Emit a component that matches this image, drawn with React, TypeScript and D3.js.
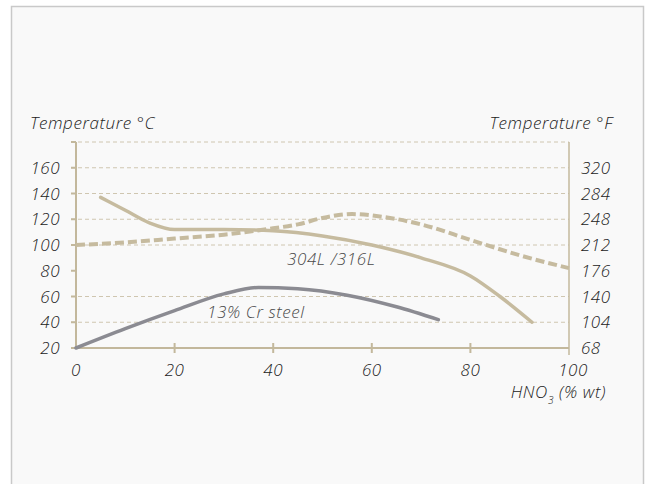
import React from "react";
import * as d3 from "d3";

// 304L / 316L, boiling-point curve (dashed) and 13% Cr steel
const steelX = [5, 10, 15, 20, 30, 40, 50, 60, 70, 80, 86, 92.5];
const steelY = [137, 127, 117, 112, 112, 111, 107, 100, 90, 76, 60, 40];

const boilX = [0, 10, 20, 30, 40, 45, 50, 56, 62, 70, 80, 90, 100];
const boilY = [100, 102, 105, 108, 113, 116, 121, 124, 122, 116, 104, 92, 82];

const crX = [0, 10, 20, 30, 37, 45, 55, 65, 73.5];
const crY = [20, 35, 49, 62, 67, 66, 61, 52, 42];

const xTicks = [0, 20, 40, 60, 80, 100];
const cTicks = [20, 40, 60, 80, 100, 120, 140, 160];
const fTicks = ["68", "104", "140", "176", "212", "248", "284", "320"];
const gridValues = [40, 60, 100, 120, 140, 160, 180];

const W = 646;
const H = 484;
const tan = "#c6bb9f";
const axisCol = "#c3b89c";
const gridCol = "#cfc6b0";
const gray = "#8b8b92";
const textCol = "#222222";
const font = "'Open Sans', 'Noto Sans', sans-serif";

export default function App() {
  const x = d3.scaleLinear().domain([0, 100]).range([76, 569]);
  const y = d3.scaleLinear().domain([20, 180]).range([348, 142]);

  const line = d3
    .line<[number, number]>()
    .x((d) => x(d[0]))
    .y((d) => y(d[1]))
    .curve(d3.curveMonotoneX);

  const zip = (xs: number[], ys: number[]) =>
    xs.map((v, i) => [v, ys[i]] as [number, number]);

  const txt = {
    fontFamily: font,
    fontStyle: "italic" as const,
    fontWeight: 300,
    fontSize: 17,
    fill: textCol,
  };

  return (
    <svg
      width={W}
      height={H}
      style={{ position: "absolute", left: 0, top: 0, display: "block" }}
    >
      <rect x={0} y={0} width={W} height={H} fill="#ffffff" />
      <rect
        x={11.5}
        y={6.5}
        width={632}
        height={H + 10}
        fill="#f9f9f9"
        stroke="#c9c9c9"
        strokeWidth={1.5}
      />

      {/* grid */}
      {gridValues.map((v) => (
        <line
          key={v}
          x1={71}
          x2={x(100)}
          y1={y(v)}
          y2={y(v)}
          stroke={gridCol}
          strokeWidth={1}
          strokeDasharray="4,3"
        />
      ))}

      {/* axes */}
      <line x1={x(0)} x2={x(0)} y1={y(180)} y2={y(20)} stroke={axisCol} strokeWidth={2} />
      <line x1={x(100)} x2={x(100)} y1={y(180)} y2={y(20) + 7} stroke={axisCol} strokeWidth={1.5} />
      <line x1={x(0)} x2={x(100)} y1={y(20)} y2={y(20)} stroke={axisCol} strokeWidth={2} />
      {[20, 40, 60, 80, 100, 120, 140, 160, 180].map((v) => (
        <line key={"lt" + v} x1={71} x2={x(0)} y1={y(v)} y2={y(v)} stroke={axisCol} strokeWidth={2} />
      ))}
      {[20, 40, 60, 80].map((v) => (
        <line key={"bt" + v} x1={x(v)} x2={x(v)} y1={y(20) - 5} y2={y(20) + 5} stroke={axisCol} strokeWidth={2} />
      ))}

      {/* curves */}
      <path
        d={line(zip(boilX, boilY)) || ""}
        fill="none"
        stroke={tan}
        strokeWidth={4}
        strokeDasharray="9,4"
      />
      <path d={line(zip(steelX, steelY)) || ""} fill="none" stroke={tan} strokeWidth={3.5} strokeLinecap="round" />
      <path d={line(zip(crX, crY)) || ""} fill="none" stroke={gray} strokeWidth={3.5} strokeLinecap="round" />

      {/* tick labels */}
      {cTicks.map((v) => (
        <text key={"c" + v} {...txt} x={60} y={y(v) + 6} textAnchor="end" letterSpacing={0.5}>
          {v}
        </text>
      ))}
      {fTicks.map((t, i) => (
        <text key={"f" + t} {...txt} x={581} y={y(cTicks[i]) + 6} textAnchor="start" letterSpacing={0.5}>
          {t}
        </text>
      ))}
      {xTicks.map((v) => (
        <text key={"x" + v} {...txt} x={x(v) + (v === 100 ? 4 : 0)} y={376} textAnchor="middle" letterSpacing={0.5}>
          {v}
        </text>
      ))}

      {/* titles */}
      <text {...txt} x={30} y={129} letterSpacing={0.6}>
        Temperature °C
      </text>
      <text {...txt} x={613} y={129} textAnchor="end" letterSpacing={0.6}>
        Temperature °F
      </text>
      <text {...txt} x={606} y={398} textAnchor="end" letterSpacing={0.6}>
        HNO<tspan fontSize={10} dy={6}>3</tspan>
        <tspan dy={-6}> (% wt)</tspan>
      </text>

      {/* series labels */}
      <text {...txt} x={287} y={265} fill="#4a4a4a" letterSpacing={0.6}>
        304L /316L
      </text>
      <text {...txt} x={207} y={318} fill="#4a4a4a" letterSpacing={0.6}>
        13% Cr steel
      </text>
    </svg>
  );
}
